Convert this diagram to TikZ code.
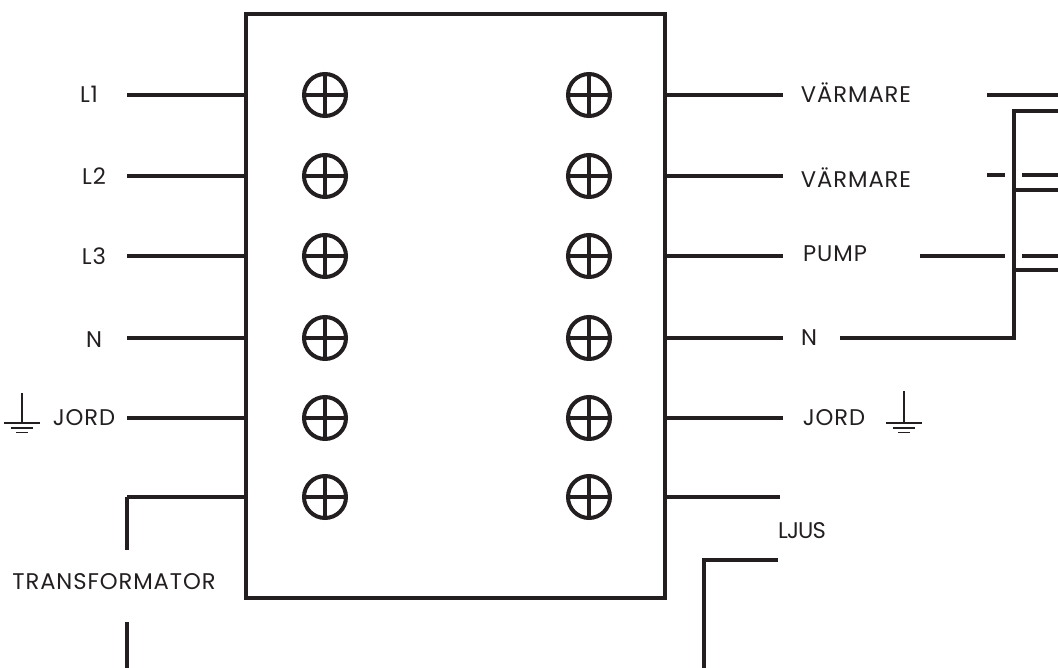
\documentclass[tikz,border=0pt]{standalone}
\usepackage{fontspec}
\setmainfont[LetterSpace=4]{Poppins}
\definecolor{wirecol}{HTML}{231F20}
\tikzset{
  wire/.style={draw=wirecol, line width=3pt},
  thin wire/.style={draw=wirecol, line width=1pt},
  panel/.style={draw=wirecol, line width=3pt, minimum width=314.25pt, minimum height=438pt, outer sep=0pt, inner sep=0pt},
  screw/.style={circle, draw=wirecol, line width=3pt, minimum size=31.5pt, inner sep=0pt, outer sep=0pt,
    path picture={
      \draw[wirecol, line width=2.6pt] (path picture bounding box.west) -- (path picture bounding box.east);
      \draw[wirecol, line width=2.6pt] (path picture bounding box.north) -- (path picture bounding box.south);
    }},
  label/.style={text=wirecol, font=\fontsize{17pt}{20pt}\selectfont, inner sep=0pt}
}

\begin{document}
\begin{tikzpicture}[x=0.75pt, y=-0.75pt]
  \useasboundingbox (0,0) rectangle (1058,668);
  \node[panel] (box) at (455.5,306) {};

  % terminal rows
  \foreach \i/\y in {1/95, 2/176, 3/256, 4/338, 5/418, 6/497} {
    \node[screw] (sl\i) at (325,\y) {};
    \node[screw] (sr\i) at (589,\y) {};
    \coordinate (bl\i) at (box.west |- sl\i);
    \coordinate (br\i) at (box.east |- sr\i);
    \ifnum \i=6
      \coordinate (el\i) at (127,\y);
      \coordinate (er\i) at (780,\y);
    \else
      \coordinate (el\i) at (127,\y);
      \coordinate (er\i) at (783,\y);
    \fi
    \draw[wire] (bl\i) -- (el\i);
    \draw[wire] (br\i) -- (er\i);
  }

  % labels
  \foreach \n/\x/\y/\t in {l1/89/94/L1, l2/94/176/L2, l3/94/256/L3, l4/94/340/N, l5/84/418/JORD,
      t/114/582/TRANSFORMATOR, r1/856/93/VÄRMARE, r2/856/178/VÄRMARE, r3/835/254/PUMP,
      r4/809/338/N, r5/834/418/JORD} {
    \node[label] (\n) at (\x,\y) {\t};
  }
  \node[label] (r6) at (802,531) {\addfontfeature{LetterSpace=-4}LJUS};

  % transformer and light
  \coordinate (ta) at (127,550);
  \coordinate (tb) at (127,622);
  \coordinate (tc) at (127,668);
  \draw[wire] (el6) -- (ta);
  \draw[wire] (tb) -- (tc);
  \coordinate (la) at (778,560);
  \coordinate (lb) at (704,668);
  \draw[wire] (la) -| (lb);

  % right side
  \coordinate (nstart) at (840,338);
  \coordinate (njoin) at (1014,338);
  \coordinate (ntop) at (1058,111);
  \draw[wire] (nstart) -- (njoin) |- (ntop);
  \foreach \y in {190, 270} {
    \coordinate (nb\y) at (1014,\y);
    \coordinate (ne\y) at (1058,\y);
    \draw[wire] (nb\y) -- (ne\y);
  }
  \coordinate (va) at (987,95);
  \coordinate (vb) at (1058,95);
  \draw[wire] (va) -- (vb);
  \foreach \n/\x/\y in {w/987/175, p/920/256} {
    \coordinate (\n a) at (\x,\y);
    \coordinate (\n b) at (1005,\y);
    \coordinate (\n c) at (1022,\y);
    \coordinate (\n d) at (1058,\y);
    \draw[wire] (\n a) -- (\n b);
    \draw[wire] (\n c) -- (\n d);
  }

  % earth symbols
  \foreach \n/\x/\t in {gl/22/393, gr/904/391} {
    \coordinate (\n) at (\x,\t);
    \coordinate (\n0) at (\x,423);
    \draw[thin wire] (\n) -- (\n0);
    \draw[thin wire] ([xshift=-13.5pt]\n0) -- ([xshift=13.5pt]\n0);
    \draw[thin wire] ([xshift=-8.5pt,yshift=-3.8pt]\n0) -- ([xshift=8.5pt,yshift=-3.8pt]\n0);
    \draw[thin wire] ([xshift=-4.5pt,yshift=-7pt]\n0) -- ([xshift=4.5pt,yshift=-7pt]\n0);
  }
\end{tikzpicture}
\end{document}
